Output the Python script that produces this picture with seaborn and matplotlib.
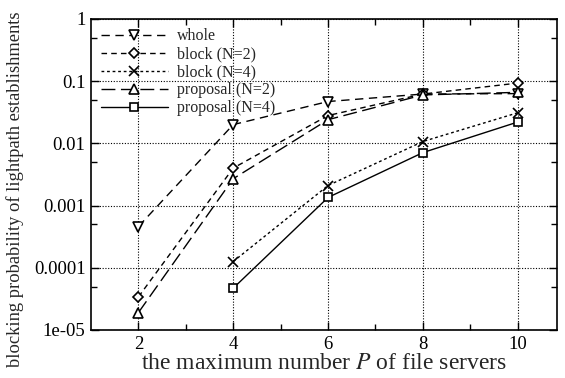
import matplotlib
matplotlib.use("Agg")
import matplotlib.pyplot as plt
from matplotlib.ticker import FixedLocator, NullFormatter, FixedFormatter
import seaborn as sns

# Maximum number P of file servers
P = [2, 4, 6, 8, 10]
P_n4 = [4, 6, 8, 10]

# Blocking probability of lightpath establishments
whole = [4.6e-4, 0.020, 0.047, 0.062, 0.063]
block_n2 = [3.4e-5, 0.0040, 0.028, 0.062, 0.093]
block_n4 = [1.26e-4, 0.0021, 0.0107, 0.031]
proposal_n2 = [1.9e-5, 0.0027, 0.024, 0.060, 0.066]
proposal_n4 = [4.7e-5, 0.00135, 0.0071, 0.022]

x_ticks = [2, 4, 6, 8, 10]
y_ticks = [1e-5, 1e-4, 1e-3, 1e-2, 1e-1, 1]
y_labels = ["1e-05", "0.0001", "0.001", "0.01", "0.1", "1"]

sns.set_theme(style="ticks")
plt.rcParams["font.family"] = ["Liberation Serif", "DejaVu Serif"]
plt.rcParams["mathtext.fontset"] = "stix"

fig = plt.figure(figsize=(5.65, 3.78), dpi=100)
ax = fig.add_axes([0.161, 0.127, 0.825, 0.823])

series = [
    ("whole", P, whole, (0, (6, 4)), "v", 6.5),
    ("block (N=2)", P, block_n2, (0, (4, 3)), "D", 5.5),
    ("block (N=4)", P_n4, block_n4, (0, (2, 2)), "x", 6.5),
    ("proposal (N=2)", P, proposal_n2, (0, (10, 4)), "^", 6.5),
    ("proposal (N=4)", P_n4, proposal_n4, "-", "s", 6),
]

for label, xs, ys, ls, mk, ms in series:
    sns.lineplot(x=xs, y=ys, ax=ax, color="black", linewidth=1.0,
                 linestyle=ls, marker=mk, markersize=ms,
                 markerfacecolor="white", markeredgecolor="black",
                 markeredgewidth=1.2, label=label, sort=False)

ax.set_yscale("log")
ax.set_xlim(1, 10.83)
ax.set_ylim(1e-5, 1)

ax.xaxis.set_major_locator(FixedLocator(x_ticks))
ax.xaxis.set_minor_locator(FixedLocator([3, 5, 7, 9]))
ax.yaxis.set_major_locator(FixedLocator(y_ticks))
ax.yaxis.set_major_formatter(FixedFormatter(y_labels))
ax.yaxis.set_minor_locator(FixedLocator([5e-5, 5e-4, 5e-3, 5e-2, 5e-1]))
ax.yaxis.set_minor_formatter(NullFormatter())

ax.tick_params(which="both", direction="in", top=True, right=True,
               colors="black", labelsize=13.5)
ax.tick_params(which="major", length=6, width=1.0)
ax.tick_params(which="minor", length=4, width=1.0)
ax.tick_params(axis="x", pad=4)
ax.tick_params(axis="y", pad=4)

ax.grid(True, which="major", color="black", linestyle=(0, (1, 1.5)),
        linewidth=0.8)
for sp in ax.spines.values():
    sp.set_visible(True)
    sp.set_color("black")
    sp.set_linewidth(1.2)

ax.set_xlabel("the maximum number $P$ of file servers", fontsize=17,
              labelpad=0)
# Y label is centred on the whole figure height
fig.text(0.026, 0.5, "blocking probability of lightpath establishments",
         rotation=90, ha="center", va="center", fontsize=13.3)

leg = ax.legend(loc="upper left", frameon=False, fontsize=11.5,
                handlelength=4.2, handletextpad=0.6, labelspacing=0.12,
                borderaxespad=0.2, borderpad=0.4, numpoints=1)

fig.savefig("out.png", dpi=100)
